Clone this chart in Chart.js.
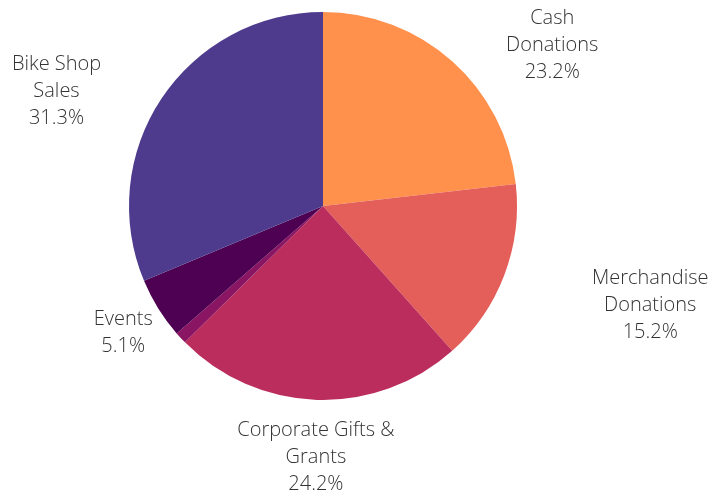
<!DOCTYPE html>
<html>
<head>
<meta charset="utf-8">
<script src="https://cdn.jsdelivr.net/npm/chart.js@4/dist/chart.umd.min.js"></script>
<style>
  html, body { margin: 0; padding: 0; background: #fff; }
  #wrap { width: 725px; height: 492px; position: relative; }
</style>
</head>
<body>
<div id="wrap"><canvas id="chart"></canvas></div>
<script>
// Data (clockwise from 12 o'clock)
const categories = ["Cash Donations", "Merchandise Donations", "Corporate Gifts & Grants", "Other", "Events", "Bike Shop Sales"];
const shares = [23.2, 15.2, 24.2, 1.0, 5.1, 31.3];

// Multi-line label text for the outside labels
const labelLines = [
  ["Cash", "Donations"],
  ["Merchandise", "Donations"],
  ["Corporate Gifts &", "Grants"],
  null, // too small, unlabeled in the original
  ["Events"],
  ["Bike Shop", "Sales"],
];

const sliceColors = ["#FF914D", "#E45E5A", "#BA2D5C", "#8A1562", "#4E0052", "#4E3B8D"];

// label nudges (px) from the arc's outer mid point, per slice
const labelNudge = [
  [100, -16], [146, 30], [-1, 57], [0, 0], [-35, 24], [-105, -7],
];

const outsideLabels = {
  id: "outsideLabels",
  afterDatasetsDraw(chart) {
    const { ctx } = chart;
    const meta = chart.getDatasetMeta(0);
    ctx.save();
    ctx.font = "300 20px 'Open Sans'";
    ctx.fillStyle = "#333333";
    ctx.textAlign = "center";
    ctx.textBaseline = "middle";
    const lh = 27;
    meta.data.forEach((arc, i) => {
      if (!labelLines[i]) return;
      const mid = (arc.startAngle + arc.endAngle) / 2;
      const px = arc.x + Math.cos(mid) * arc.outerRadius + labelNudge[i][0];
      const py = arc.y + Math.sin(mid) * arc.outerRadius + labelNudge[i][1];
      const lines = [...labelLines[i], shares[i].toFixed(1) + "%"];
      const top = py - (lines.length - 1) * lh / 2;
      lines.forEach((t, k) => ctx.fillText(t, px, top + k * lh));
    });
    ctx.restore();
  }
};

new Chart(document.getElementById("chart"), {
  type: "pie",
  data: {
    labels: categories,
    datasets: [{
      data: shares,
      backgroundColor: sliceColors,
      borderWidth: 0,
    }]
  },
  options: {
    responsive: true,
    maintainAspectRatio: false,
    animation: false,
    layout: { padding: { left: 129, right: 208, top: 12, bottom: 92 } },
    plugins: {
      legend: { display: false },
      tooltip: { enabled: false },
    },
  },
  plugins: [outsideLabels],
});
</script>
</body>
</html>
